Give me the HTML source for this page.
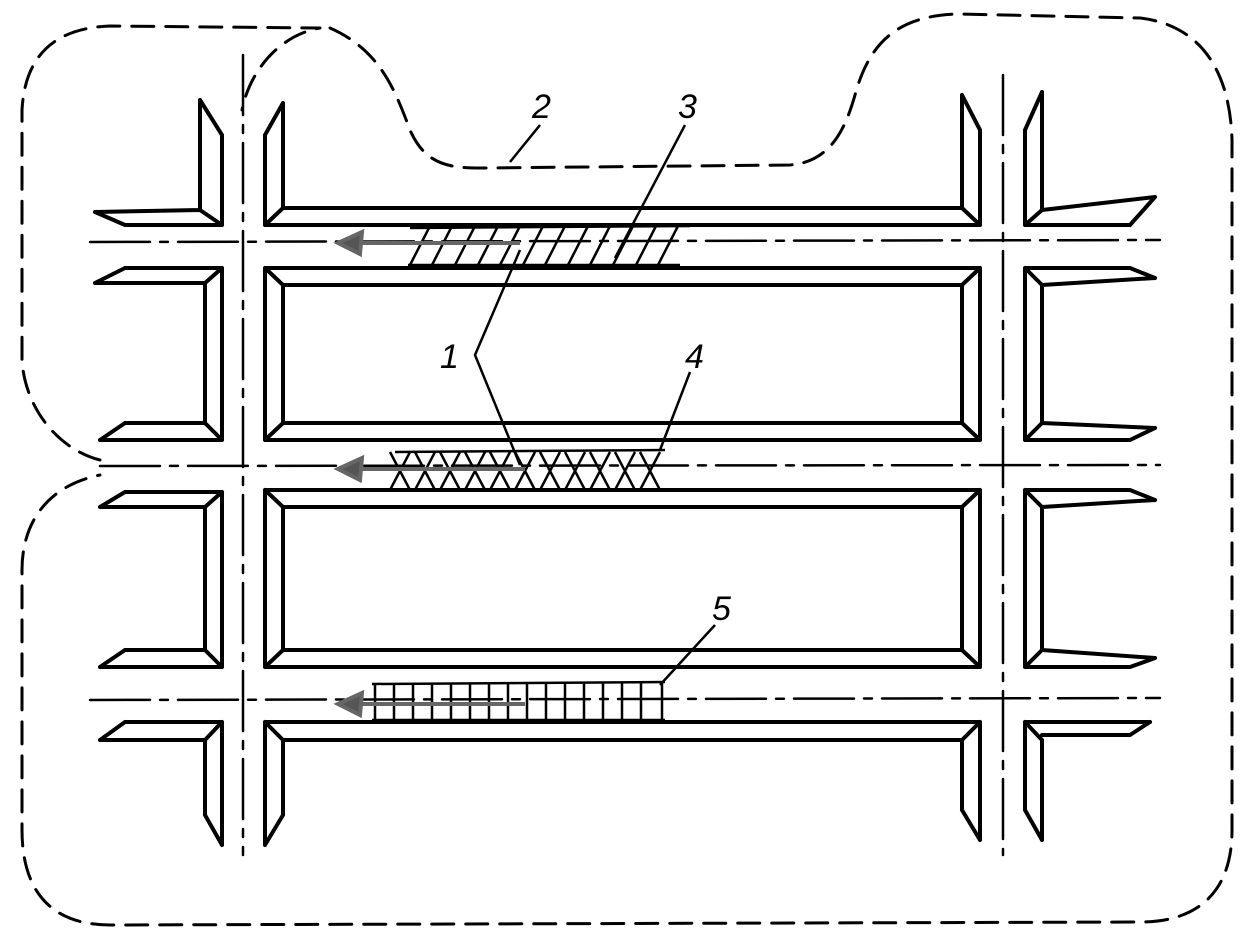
<!DOCTYPE html>
<html><head><meta charset="utf-8"><style>html,body{margin:0;padding:0;background:#fff}svg{display:block}</style></head>
<body>
<svg width="1251" height="935" viewBox="0 0 1251 935" xmlns="http://www.w3.org/2000/svg">
<g fill="none" stroke="#000" stroke-width="4" stroke-linejoin="round" stroke-linecap="round">
<!-- boundary dashed -->
<path stroke-dasharray="22,12" stroke-width="3" d="M330,28 C380,50 395,90 410,130 C425,165 450,168 480,168 L790,165 C830,162 845,130 855,95 C870,40 900,15 960,14 L1140,18 C1200,25 1230,70 1232,140 L1232,830 C1232,890 1200,922 1140,922 L110,925 C50,925 22,890 22,830 L22,570 C22,520 50,485 100,475 M100,460 C60,450 25,410 22,360 L22,110 C25,55 55,28 110,26 L320,28 C280,35 250,70 242,110"/>
<!-- centerlines -->
<g stroke-width="2.5" stroke-dasharray="60,10,8,10">
<line x1="90" y1="242" x2="1160" y2="240"/>
<line x1="100" y1="466" x2="1160" y2="465"/>
<line x1="90" y1="700" x2="1160" y2="698"/>
<line x1="243" y1="55" x2="243" y2="855"/>
<line x1="1003" y1="75" x2="1003" y2="855"/>
</g>
<!-- center blocks -->
<path d="M265,135 L265,225 L980,225 L980,130 M283,103 L283,208 L962,208 L962,95 M283,103 L265,135 M962,95 L980,130 M265,225 L283,208 M980,225 L962,208"/>
<path d="M265,268 H980 V440 H265 Z M283,285 H962 V423 H283 Z M265,268 L283,285 M980,268 L962,285 M980,440 L962,423 M265,440 L283,423"/>
<path d="M265,490 H980 V667 H265 Z M283,507 H962 V650 H283 Z M265,490 L283,507 M980,490 L962,507 M980,667 L962,650 M265,667 L283,650"/>
<path d="M265,845 L265,722 L980,722 L980,840 M283,815 L283,740 L962,740 L962,810 M265,722 L283,740 M980,722 L962,740 M265,845 L283,815 M980,840 L962,810"/>
<!-- left blocks -->
<path d="M222,135 L222,225 L125,225 M200,100 L200,210 L95,212 M200,100 L222,135 M95,212 L125,225 M222,225 L200,210"/>
<path d="M125,268 L222,268 L222,440 L100,440 M95,283 L205,283 L205,423 L125,423 M95,283 L125,268 M100,440 L125,423 M222,268 L205,283 M222,440 L205,423"/>
<path d="M125,492 L222,492 L222,667 L100,667 M100,507 L205,507 L205,650 L125,650 M100,507 L125,492 M100,667 L125,650 M222,492 L205,507 M222,667 L205,650"/>
<path d="M125,722 L222,722 L222,845 M100,740 L205,740 L205,815 M100,740 L125,722 M222,845 L205,815 M222,722 L205,740"/>
<!-- right blocks -->
<path d="M1025,130 L1025,225 L1130,225 M1042,92 L1042,210 L1155,197 M1042,92 L1025,130 M1155,197 L1130,225 M1025,225 L1042,210"/>
<path d="M1025,268 L1130,268 M1025,268 L1025,440 L1130,440 M1042,285 L1042,423 M1042,285 L1155,278 M1155,278 L1130,268 M1042,423 L1155,428 M1155,428 L1130,440 M1025,268 L1042,285 M1025,440 L1042,423"/>
<path d="M1025,490 L1130,490 M1025,490 L1025,667 L1130,667 M1042,507 L1042,650 M1042,507 L1155,500 M1155,500 L1130,490 M1042,650 L1155,658 M1155,658 L1130,667 M1025,490 L1042,507 M1025,667 L1042,650"/>
<path d="M1025,722 L1150,722 M1025,722 L1025,810 M1042,740 L1042,840 M1042,740 L1025,722 M1042,840 L1025,810 M1150,722 L1130,735 M1042,735 L1130,735"/>
</g>
<!-- hatching -->
<g fill="none" stroke="#000" stroke-width="2.5">
<path d="M410,228 L690,226 M408,265 L680,265"/>
<path d="M410,265 L430,226 M432,265 L452,226 M455,265 L475,226 M478,265 L498,226 M500,265 L520,226 M523,265 L543,226 M545,265 L565,226 M568,265 L588,226 M590,265 L610,226 M613,265 L633,226 M636,265 L656,226 M658,265 L678,226"/>
<path d="M395,452 L665,450 M395,490 L665,490"/>
<path d="M390,452 L410,490 M410,452 L390,490 M415,452 L435,490 M435,452 L415,490 M440,452 L460,490 M460,452 L440,490 M465,452 L485,490 M485,452 L465,490 M490,452 L510,490 M510,452 L490,490 M515,452 L535,490 M535,452 L515,490 M540,452 L560,490 M560,452 L540,490 M565,452 L585,490 M585,452 L565,490 M590,452 L610,490 M610,452 L590,490 M615,452 L635,490 M635,452 L615,490 M640,452 L660,490 M660,452 L640,490"/>
<path d="M372,684 L665,682 M372,720 L665,720"/>
<path d="M375,683 V720 M394,683 V720 M413,683 V720 M432,683 V720 M451,683 V720 M470,683 V720 M489,683 V720 M508,683 V720 M527,683 V720 M546,683 V720 M565,683 V720 M584,683 V720 M603,683 V720 M622,683 V720 M641,683 V720 M662,683 V720"/>
</g>
<!-- arrows -->
<g stroke="#666" stroke-width="4" fill="#555">
<line x1="355" y1="243" x2="520" y2="243"/><path d="M338,243 L362,232 L360,254 Z"/>
<line x1="355" y1="469" x2="525" y2="469"/><path d="M338,469 L362,458 L360,480 Z"/>
<line x1="355" y1="704" x2="525" y2="704"/><path d="M338,704 L362,693 L360,715 Z"/>
</g>
<!-- leaders -->
<g fill="none" stroke="#000" stroke-width="2.5">
<path d="M540,125 L510,162"/>
<path d="M685,125 L615,258"/>
<path d="M520,250 L475,355 L520,465"/>
<path d="M690,372 L660,450"/>
<path d="M715,625 L660,685"/>
</g>
<g font-family="Liberation Sans, sans-serif" font-style="italic" font-size="34" fill="#000">
<text x="532" y="118">2</text>
<text x="678" y="118">3</text>
<text x="440" y="368">1</text>
<text x="685" y="368">4</text>
<text x="712" y="620">5</text>
</g>
</svg>
</body></html>
